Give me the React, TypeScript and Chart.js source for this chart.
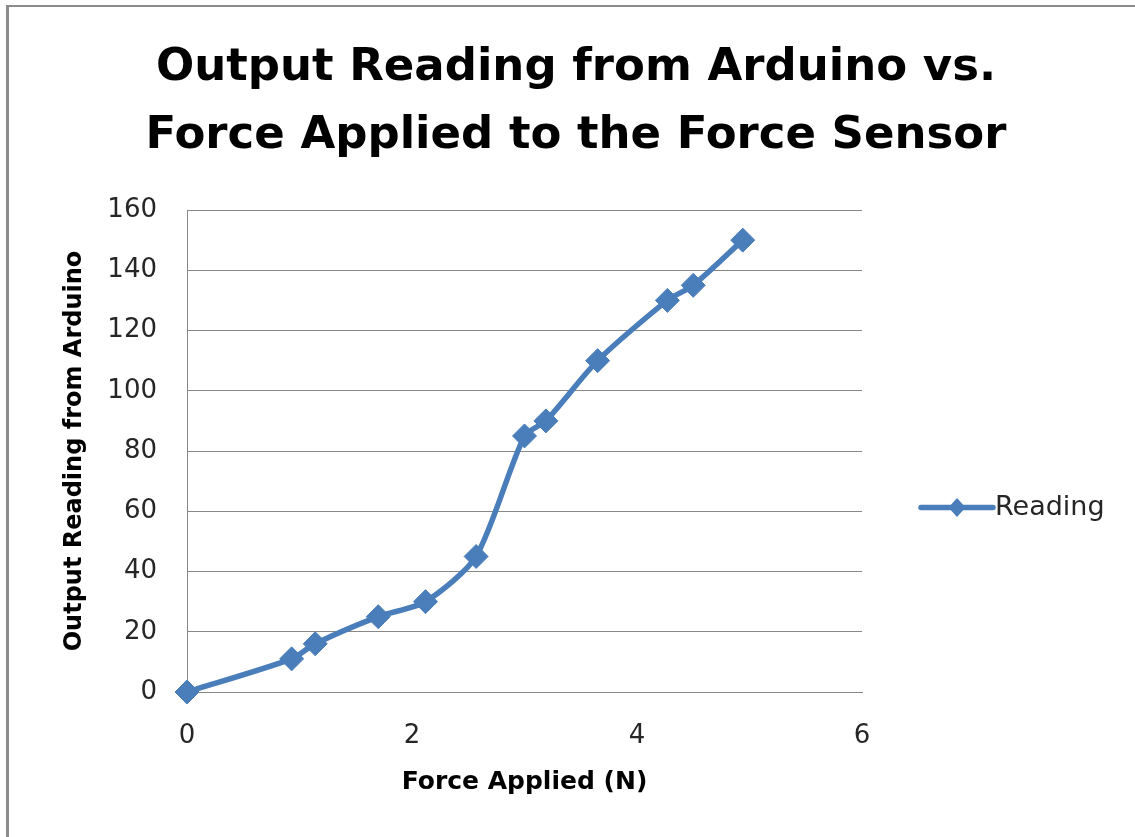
import React, { useEffect, useRef } from 'react';
import { Chart, registerables } from 'chart.js';

Chart.register(...registerables);

// ---- data ----
const forceApplied = [0, 0.93, 1.14, 1.7, 2.12, 2.57, 3.0, 3.19, 3.65, 4.27, 4.5, 4.94];
const arduinoReading = [0, 11, 16, 25, 30, 45, 85, 90, 110, 130, 135, 150];
const seriesLabel = 'Reading';
const titleLines = ['Output Reading from Arduino vs.', 'Force Applied to the Force Sensor'];
const xAxisTitle = 'Force Applied (N)';
const yAxisTitle = 'Output Reading from Arduino';
const xRange = [0, 6];
const xStep = 2;
const yRange = [0, 160];
const yStep = 20;

const FONT = "'DejaVu Sans'";
const BLUE = '#4a7ebb';
const GRID = '#888888';
const TEXT = '#262626';

const legendPlugin = {
  id: 'excelLegend',
  afterDraw(chart: any) {
    const ctx = chart.ctx as CanvasRenderingContext2D;
    const ds = chart.data.datasets[0];
    const area = chart.chartArea;
    const x0 = area.right + 59;
    const x1 = area.right + 131;
    const cy = 507.5;
    ctx.save();
    ctx.strokeStyle = ds.borderColor;
    ctx.lineWidth = 5.5;
    ctx.lineCap = 'round';
    ctx.beginPath();
    ctx.moveTo(x0, cy);
    ctx.lineTo(x1, cy);
    ctx.stroke();
    const cx = (x0 + x1) / 2;
    const rx = 8.5;
    const ry = 9.5;
    ctx.fillStyle = ds.pointBackgroundColor;
    ctx.beginPath();
    ctx.moveTo(cx, cy - ry);
    ctx.lineTo(cx + rx, cy);
    ctx.lineTo(cx, cy + ry);
    ctx.lineTo(cx - rx, cy);
    ctx.closePath();
    ctx.fill();
    ctx.font = `27px ${FONT}`;
    ctx.fillStyle = TEXT;
    ctx.textBaseline = 'middle';
    ctx.textAlign = 'left';
    ctx.fillText(ds.label, x1 + 2, cy);
    ctx.restore();
  },
};

export default function App() {
  const ref = useRef<HTMLCanvasElement | null>(null);

  useEffect(() => {
    if (!ref.current) return;
    const points = forceApplied.map((x, i) => ({ x, y: arduinoReading[i] }));
    const chart = new Chart(ref.current, {
      type: 'line',
      data: {
        datasets: [
          {
            label: seriesLabel,
            data: points,
            borderColor: BLUE,
            borderWidth: 5.5,
            backgroundColor: BLUE,
            pointStyle: 'rectRot',
            pointRadius: 12,
            pointBackgroundColor: BLUE,
            pointBorderColor: BLUE,
            pointBorderWidth: 1,
            tension: 0.25,
            fill: false,
            clip: false as any,
          },
        ],
      },
      options: {
        responsive: false,
        animation: false,
        events: [],
        layout: { padding: { left: 17, right: 0, top: 0, bottom: 0 } },
        plugins: {
          legend: { display: false },
          tooltip: { enabled: false },
          title: {
            display: true,
            text: titleLines,
            color: '#000000',
            font: { family: FONT, size: 45, weight: 'bold', lineHeight: 68 / 45 },
            padding: { top: 34.4, bottom: 39.6 },
          },
        },
        scales: {
          x: {
            type: 'linear',
            position: 'bottom',
            min: xRange[0],
            max: xRange[1],
            ticks: {
              stepSize: xStep,
              color: TEXT,
              font: { family: FONT, size: 26 },
              padding: 29,
              maxRotation: 0,
            },
            grid: { display: false, drawTicks: false },
            border: { display: true, color: GRID, width: 1 },
            title: {
              display: true,
              text: xAxisTitle,
              color: '#000000',
              font: { family: FONT, size: 25, weight: 'bold', lineHeight: 1.2 },
              padding: { top: 0, bottom: 39.6 },
            },
            afterFit: (s: any) => {
              s.height = 145;
            },
          },
          y: {
            type: 'linear',
            position: 'left',
            min: yRange[0],
            max: yRange[1],
            ticks: {
              stepSize: yStep,
              color: TEXT,
              font: { family: FONT, size: 26 },
              padding: 30,
            },
            grid: { color: GRID, lineWidth: 1, drawTicks: false },
            border: { display: true, color: GRID, width: 1 },
            title: {
              display: true,
              text: yAxisTitle,
              color: '#000000',
              font: { family: FONT, size: 24, weight: 'bold', lineHeight: 1.2 },
              padding: { top: 43.6, bottom: 0 },
            },
            afterFit: (s: any) => {
              s.width = 170;
            },
          },
          legendSpace: {
            type: 'linear',
            position: 'right',
            display: true,
            grid: { display: false, drawTicks: false },
            border: { display: false },
            ticks: { display: false },
            afterFit: (s: any) => {
              s.width = 273;
            },
          },
        },
      },
      plugins: [legendPlugin],
    } as any);
    return () => chart.destroy();
  }, []);

  return (
    <div
      style={{
        position: 'fixed',
        left: 0,
        top: 0,
        width: 1135,
        height: 837,
        background: '#ffffff',
        overflow: 'hidden',
      }}
    >
      <canvas
        ref={ref}
        width={1135}
        height={837}
        style={{ position: 'absolute', left: 0, top: 0, width: 1135, height: 837 }}
      />
      <div
        style={{
          position: 'absolute',
          left: 6,
          top: 5,
          width: 1200,
          height: 900,
          borderLeft: '3px solid #8c8c8c',
          borderTop: '2px solid #8c8c8c',
          pointerEvents: 'none',
        }}
      />
    </div>
  );
}
